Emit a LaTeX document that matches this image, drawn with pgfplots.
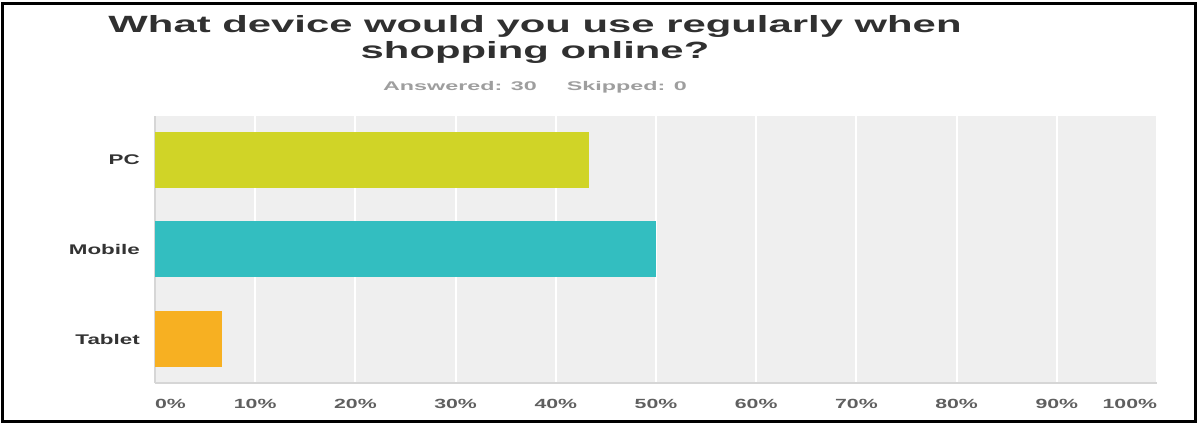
\documentclass[border=0pt]{standalone}
\usepackage{pgfplots}
\pgfplotsset{compat=1.18}
\usepackage{fontspec}
\setmainfont{Liberation Sans}
\newfontfamily\titlefont{Liberation Sans Bold}[FakeStretch=1.78]
\newfontfamily\subfont{Liberation Sans Bold}[FakeStretch=1.85]
\newfontfamily\tickfont{Liberation Sans Bold}[FakeStretch=1.6]
\definecolor{bggray}{RGB}{239,239,239}
\definecolor{axisgray}{RGB}{214,214,214}
\definecolor{pcc}{RGB}{208,212,39}
\definecolor{mobc}{RGB}{51,190,192}
\definecolor{tabc}{RGB}{247,176,34}
\definecolor{titlec}{RGB}{48,48,48}
\definecolor{subc}{RGB}{158,158,158}
\definecolor{xlab}{RGB}{95,95,95}
\definecolor{ylab}{RGB}{51,51,51}
\begin{document}
\begin{tikzpicture}[x=1pt,y=1pt]
\useasboundingbox (0,0) rectangle (1198,423);
\draw[black, line width=3pt] (2.5,1.5) rectangle (1195.5,419.5);
\node[anchor=base, text=titlec, font=\titlefont\fontsize{23.5}{28}\selectfont, inner sep=0pt] at (535,390) {What device would you use regularly when};
\node[anchor=base, text=titlec, font=\titlefont\fontsize{23.5}{28}\selectfont, inner sep=0pt] at (535,364) {shopping online?};
\node[anchor=base, text=subc, font=\subfont\fontsize{12.6}{15}\selectfont, inner sep=0pt] at (535,332) {Answered: 30\hspace{30pt}Skipped: 0};
\begin{axis}[
  at={(155pt,40pt)}, anchor=south west,
  scale only axis, width=1002pt, height=267pt,
  xmin=0, xmax=100, ymin=-0.49, ymax=2.49,
  axis background/.style={fill=bggray},
  xtick={0,10,...,100},
  xticklabels={\makebox[0pt][l]{0\%},10\%,20\%,30\%,40\%,50\%,60\%,70\%,80\%,90\%,\makebox[0pt][r]{100\%}},
  ytick={0,1,2},
  yticklabels={Tablet,Mobile,PC},
  xmajorgrids, ymajorgrids=false,
  major grid style={white, line width=2pt},
  axis x line=bottom, axis y line=left,
  axis line style={-, draw=axisgray, line width=2pt},
  major tick length=0pt,
  /pgf/number format/assume math mode=true,
  xticklabel style={font=\tickfont\fontsize{13.3}{16}\selectfont, text=xlab, inner sep=0pt, anchor=north, yshift=-16pt},
  yticklabel style={font=\tickfont\fontsize{14}{16}\selectfont, text=ylab, inner sep=0pt, anchor=east, xshift=-15pt},
]
\addplot[xbar, bar width=56pt, bar shift=0pt, fill=pcc, draw=none] coordinates {(43.33,2)};
\addplot[xbar, bar width=56pt, bar shift=0pt, fill=mobc, draw=none] coordinates {(50,1)};
\addplot[xbar, bar width=56pt, bar shift=0pt, fill=tabc, draw=none] coordinates {(6.67,0)};
\end{axis}
\end{tikzpicture}
\end{document}
